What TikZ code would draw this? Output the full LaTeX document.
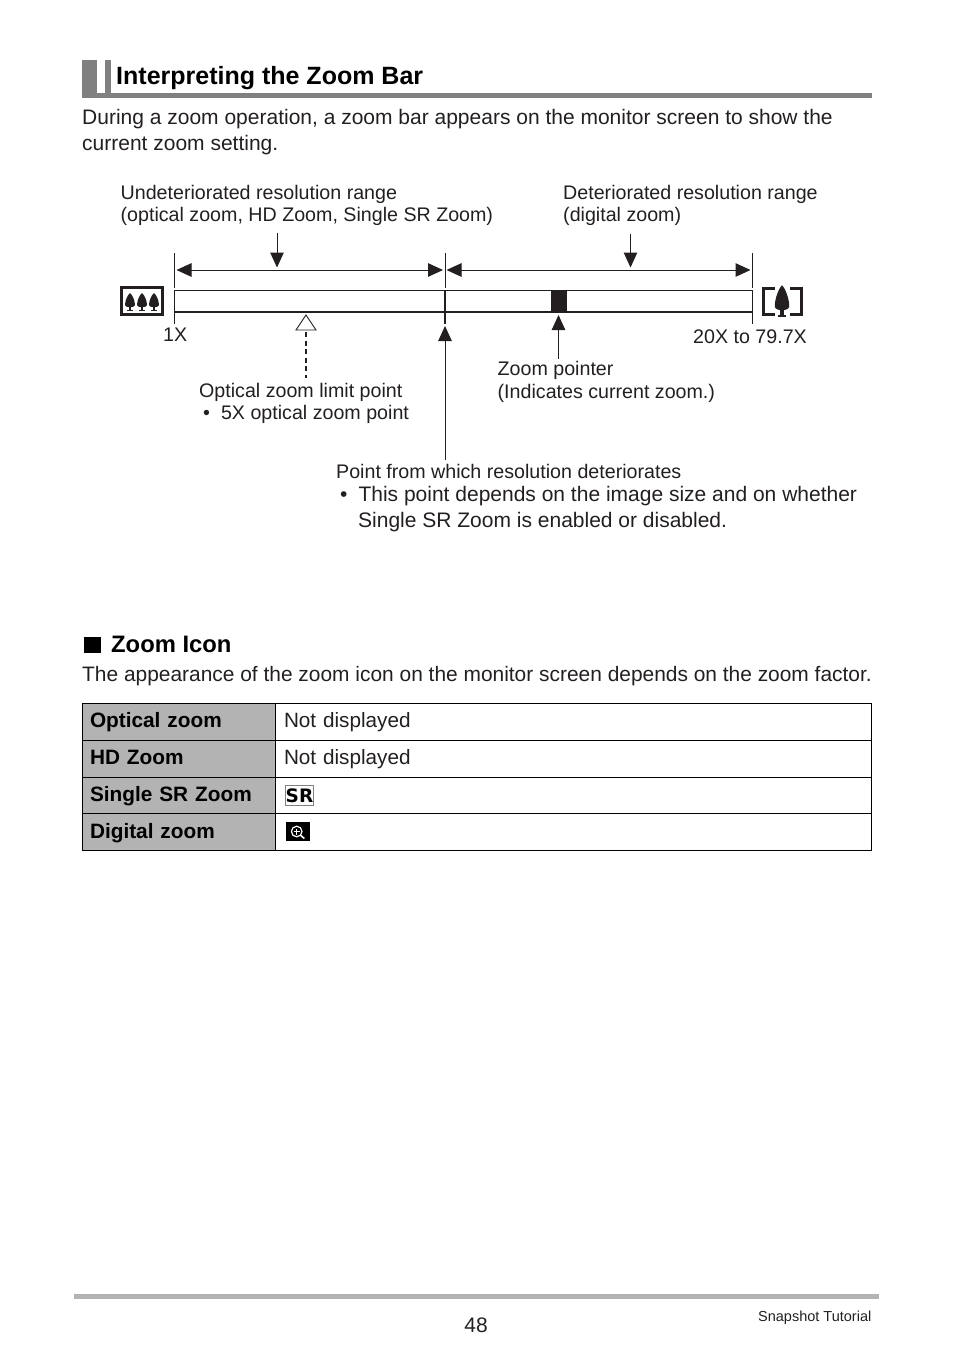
\documentclass[tikz,border=0pt]{standalone}
\usepackage{fontspec}
\setmainfont{Liberation Sans}
\newfontfamily\iconfont{DejaVu Sans}
\usetikzlibrary{arrows.meta}
\definecolor{ink}{HTML}{231F20}
\definecolor{headgray}{HTML}{808080}
\definecolor{cellgray}{HTML}{B3B3B3}
\tikzset{>={Triangle[length=15pt,width=13.5pt]}}
\tikzset{
  bodytext/.style={anchor=base west, inner sep=0pt, align=left, text=ink, font=\fontsize{21}{26}\selectfont},
  labeltext/.style={anchor=base west, inner sep=0pt, align=left, text=ink, font=\fontsize{19.65}{22.5}\selectfont},
  keycell/.style={anchor=north west, draw=black, line width=0.9pt, fill=cellgray, outer sep=0pt, inner xsep=7.5pt, inner ysep=8.375pt, text width=178pt, text height=16pt, text depth=4pt, font=\fontsize{20.8}{26}\selectfont\bfseries},
  valcell/.style={anchor=north west, draw=black, line width=0.9pt, outer sep=0pt, inner xsep=8.5pt, inner ysep=8.375pt, text width=579pt, text height=16pt, text depth=4pt, text=ink, font=\fontsize{20.7}{26}\selectfont},
  tick/.style={draw=ink, line width=1pt},
  pointer/.style={draw=ink, line width=1pt},
  treeicon/.pic={
    \fill[ink] (0,-9) .. controls (-2.5,-7) and (-5,-1) .. (-5,3) .. controls (-5,6) and (5,6) .. (5,3) .. controls (5,-1) and (2.5,-7) .. (0,-9) -- cycle;
    \fill[ink] (-1.2,5) rectangle (1.2,9);
    \fill[ink] (-3,8.2) rectangle (3,9);
  },
}
\begin{document}
\begin{tikzpicture}[x=1pt,y=-1pt]
  \useasboundingbox (0,0) rectangle (954,1357);
  % heading
  \fill[headgray] (82,60) rectangle (97,97);
  \fill[headgray] (105,60) rectangle (111,97);
  \fill[headgray] (82,93) rectangle (872,97.5);
  \node[bodytext, font=\fontsize{25}{30}\selectfont\bfseries, text=black] (title) at (116,84) {Interpreting the Zoom Bar};
  \node[bodytext] (intro) at (82,150.5) {During a zoom operation, a zoom bar appears on the monitor screen to show the\\current zoom setting.};

  % range labels
  \node[labeltext] (rangeleft) at (120.5,221.5) {Undeteriorated resolution range\\(optical zoom, HD Zoom, Single SR Zoom)};
  \node[labeltext] (rangeright) at (563,221.5) {Deteriorated resolution range\\(digital zoom)};

  % zoom bar
  \draw[draw=ink, line width=1pt] (174,290) -- (752,290);
  \draw[draw=ink, line width=2pt] (174,312) -- (752,312);
  \node[fill=ink, inner sep=0pt, minimum width=16pt, minimum height=22pt] (zoompointer) at (559,301) {};

  % ticks
  \foreach \name/\x in {a/174.5,b/445,c/752}{
    \coordinate (top\name) at (\x,253);
    \coordinate (mid\name) at (\x,288);
    \coordinate (bar\name) at (\x,290);
    \coordinate (low\name) at (\x,324);
  }
  \draw[tick] (topa) -- (mida);
  \draw[tick] (bara) -- (lowa);
  \draw[tick] (topb) -- (midb);
  \draw[tick, line width=1.5pt] (barb) -- (lowb);
  \draw[tick] (topc) -- (midc);
  \draw[tick] (barc) -- (lowc);

  % range arrows
  \coordinate (r1) at (176.5,270);
  \coordinate (r2) at (443,270);
  \coordinate (r3) at (446.5,270);
  \coordinate (r4) at (750.5,270);
  \coordinate (d1a) at (277,233);
  \coordinate (d1b) at (277,267.5);
  \coordinate (d2a) at (630.5,234);
  \coordinate (d2b) at (630.5,267.5);
  \draw[pointer, <->] (r1) -- (r2);
  \draw[pointer, <->] (r3) -- (r4);
  \draw[pointer, ->] (d1a) -- (d1b);
  \draw[pointer, ->] (d2a) -- (d2b);

  % icons
  \node[draw=ink, line width=2.6pt, inner sep=0pt, minimum width=41.5pt, minimum height=27.5pt] (wideicon) at (142,301) {};
  \foreach \x in {130,142,154}{
    \pic at (\x,302) {treeicon};
  }
  \draw[ink, line width=2.6pt] (775,288.3) -| (763.3,314.7) -- (775,314.7);
  \draw[ink, line width=2.6pt] (790,288.3) -| (801.7,314.7) -- (790,314.7);
  \pic[xscale=1.45, yscale=1.75] at (782,301) {treeicon};

  \node[labeltext] (onex) at (163,341) {1X};
  \node[labeltext] (maxzoom) at (693,343) {20X to 79.7X};

  % optical limit
  \draw[ink, line width=0.9pt, fill=white] (306,315) -- (316,330) -- (296,330) -- cycle;
  \coordinate (limittop) at (306,332);
  \coordinate (limitend) at (306,378);
  \draw[ink, line width=1.8pt, dash pattern=on 5pt off 3.5pt] (limittop) -- (limitend);
  \node[labeltext] (limitnote) at (199,419.5) {Optical zoom limit point\\\hspace*{4pt}•\hspace{11pt}5X optical zoom point};

  % zoom pointer note
  \coordinate (pointertail) at (558.5,359);
  \coordinate (pointertip) at (558.5,315);
  \draw[pointer, ->] (pointertail) -- (pointertip);
  \node[labeltext] (pointernote) at (497.5,398) {Zoom pointer\\(Indicates current zoom.)};

  % deterioration point
  \coordinate (dettail) at (445,460);
  \coordinate (dettip) at (445,326);
  \draw[pointer, ->] (dettail) -- (dettip);
  \node[labeltext] (detnote) at (336,478) {Point from which resolution deteriorates};
  \node[bodytext] (detlist) at (340,527) {•\hspace{11pt}This point depends on the image size and on whether\\\hspace*{18pt}Single SR Zoom is enabled or disabled.};

  % zoom icon section
  \node[fill=black, inner sep=0pt, minimum width=17pt, minimum height=16pt] (sectionmark) at (92.5,645) {};
  \node[bodytext, font=\fontsize{23.8}{28}\selectfont\bfseries, text=black] (iconhead) at (111,652) {Zoom Icon};
  \node[bodytext, font=\fontsize{20.92}{26}\selectfont] (iconintro) at (82,681.5) {The appearance of the zoom icon on the monitor screen depends on the zoom factor.};

  % table
  \foreach \i/\key/\val in {0/Optical zoom/Not displayed,1/HD Zoom/Not displayed,2/Single SR Zoom/,3/Digital zoom/}{
    \node[keycell] (key\i) at (82.5,703.5+36.75*\i) {\key};
    \node[valcell] (val\i) at (key\i.north east) {\val};
  }
  \node[draw=gray, line width=0.7pt, fill=white, inner sep=0pt, minimum width=27.5pt, minimum height=20.5pt, font=\iconfont\fontsize{18.5}{18.5}\selectfont\bfseries] (sricon) at (299.5,795.5) {SR};
  \node[fill=black, inner sep=0pt, minimum width=24.5pt, minimum height=19pt] (digicon) at (298,831.5) {};
  \draw[white, line width=1.2pt] (digicon.center) ++(-1.3,0) circle (5.3);
  \draw[white, line width=1pt] (digicon.center) ++(-4.3,0) -- ++(6,0);
  \draw[white, line width=1pt] (digicon.center) ++(-1.3,-3) -- ++(0,6);
  \draw[white, line width=1.6pt] (digicon.center) ++(2.8,4) -- ++(3.5,3);

  % footer
  \fill[cellgray] (74,1294) rectangle (879,1298.5);
  \node[bodytext, anchor=base] (pagenum) at (476,1332) {48};
  \node[bodytext, anchor=base east, font=\fontsize{14.5}{18}\selectfont] (chapter) at (871.5,1321) {Snapshot Tutorial};
\end{tikzpicture}
\end{document}
